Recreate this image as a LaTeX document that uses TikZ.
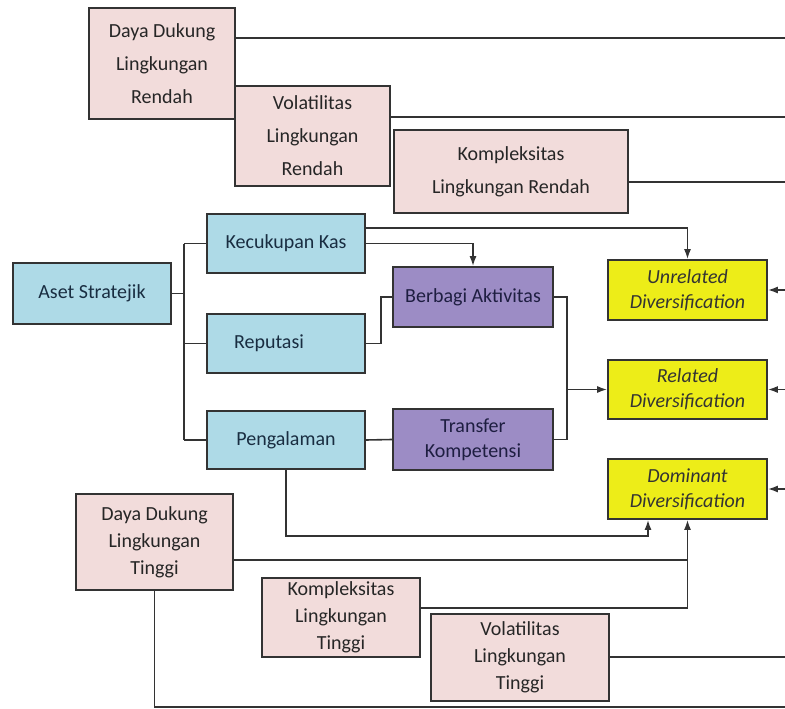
\documentclass[tikz,border=0pt]{standalone}
\usepackage{fontspec}
\setmainfont{Carlito}
\usetikzlibrary{arrows.meta}
\definecolor{pinkc}{HTML}{F2DCDB}
\definecolor{bluec}{HTML}{AEDAE7}
\definecolor{purplec}{HTML}{9C8CC5}
\definecolor{yellowc}{HTML}{EDED18}
\definecolor{linec}{HTML}{333333}
\begin{document}
\begin{tikzpicture}[x=1pt,y=-1pt,
  box/.style={draw=linec, line width=1.7pt, inner sep=0pt, align=center},
  pinkbox/.style={box, fill=pinkc, text=black!85, font=\fontsize{20}{27}\selectfont},
  pinktall/.style={pinkbox, font=\fontsize{20}{33}\selectfont},
  bluebox/.style={box, fill=bluec, text={rgb,255:red,25;green,45;blue,65}, font=\fontsize{20}{27}\selectfont},
  purplebox/.style={box, fill=purplec, text={rgb,255:red,30;green,30;blue,65}, font=\fontsize{20}{25}\selectfont},
  yellowbox/.style={box, fill=yellowc, text=black!80, font=\fontsize{20}{25}\selectfont\itshape},
  conn/.style={draw=linec, line width=1.6pt},
  arr/.style={conn, -{Latex[length=10pt,width=7pt]}}]
\useasboundingbox (0,0) rectangle (785,709);
% environment boxes (low)
\node[pinktall, minimum width=146, minimum height=111] (ddr) at (162,63.5) {Daya Dukung\\Lingkungan\\Rendah};
\node[pinktall, minimum width=155, minimum height=100] (vlr) at (312.5,136) {\\[-20pt]Volatilitas\\Lingkungan\\Rendah};
\node[pinktall, minimum width=234, minimum height=83] (kr) at (511,171.5) {Kompleksitas\\Lingkungan Rendah};
% assets
\node[bluebox, minimum width=158, minimum height=61] (aset) at (92,293.5) {Aset Stratejik};
\node[bluebox, minimum width=158, minimum height=59] (kas) at (286,243.5) {Kecukupan Kas};
\node[bluebox, minimum width=158, minimum height=59] (rep) at (286,343.5) {Reputasi\hspace*{34pt}};
\node[bluebox, minimum width=158, minimum height=58] (peng) at (286,440) {Pengalaman};
% mechanisms
\node[purplebox, minimum width=160, minimum height=60] (berbagi) at (473,297) {Berbagi Aktivitas};
\node[purplebox, minimum width=160, minimum height=61] (transfer) at (473,439.5) {Transfer\\Kompetensi};
% outcomes
\node[yellowbox, minimum width=159, minimum height=60] (unrel) at (687.5,290) {Unrelated\\Diversification};
\node[yellowbox, minimum width=159, minimum height=59] (rel) at (687.5,389.5) {Related\\Diversification};
\node[yellowbox, minimum width=159, minimum height=60] (dom) at (687.5,489) {Dominant\\Diversification};
% environment boxes (high)
\node[pinkbox, minimum width=157, minimum height=96] (ddt) at (154.5,542) {Daya Dukung\\Lingkungan\\Tinggi};
\node[pinkbox, minimum width=158, minimum height=79] (kt) at (341,617.5) {Kompleksitas\\Lingkungan\\Tinggi};
\node[pinkbox, minimum width=178, minimum height=87] (vt) at (520,657.5) {Volatilitas\\Lingkungan\\Tinggi};
% free ends and bends
\coordinate (e1) at (785,38);
\coordinate (e2) at (785,117);
\coordinate (e3) at (785,182);
\coordinate (e4) at (785,657);
\coordinate (edge) at (785,0);
\coordinate (bus) at (184,293.5);
\coordinate (kasU) at (365,228);
\coordinate (join) at (567,389.5);
\coordinate (domL) at (648,536);
\coordinate (ddtR) at (233,560);
\coordinate (ktR) at (420,608);
\coordinate (bottomR) at (785,707);
% connectors
\draw[conn] (ddr.east |- e1) -- (e1);
\draw[conn] (vlr.east |- e2) -- (e2);
\draw[conn] (kr.east |- e3) -- (e3);
\draw[conn] (aset.east) -- (bus);
\draw[conn] (bus |- kas.west) -- (bus |- peng.west);
\draw[conn] (bus |- kas.west) -- (kas.west);
\draw[conn] (bus |- rep.west) -- (rep.west);
\draw[conn] (bus |- peng.west) -- (peng.west);
\draw[arr] (kas.east |- kasU) -| (unrel.north);
\draw[arr] (kas.east) -| (berbagi.north);
\draw[conn] (rep.east) -- ++(15,0) |- (berbagi.west);
\draw[conn] (peng.east) -- (transfer.west);
\draw[conn] (berbagi.east) -| (join) |- (transfer.east);
\draw[arr] (join) -- (rel.west);
\draw[arr] (peng.south) |- (domL) -- (domL |- dom.south);
\draw[conn] (ddt.east |- ddtR) -- (ddtR -| dom.south);
\draw[arr] (ktR) -| (dom.south);
\draw[conn] (vt.east |- e4) -- (e4);
\draw[arr] (edge |- unrel.east) -- (unrel.east);
\draw[arr] (edge |- rel.east) -- (rel.east);
\draw[arr] (edge |- dom.east) -- (dom.east);
\draw[conn] (ddt.south) |- (bottomR);
\end{tikzpicture}
\end{document}
